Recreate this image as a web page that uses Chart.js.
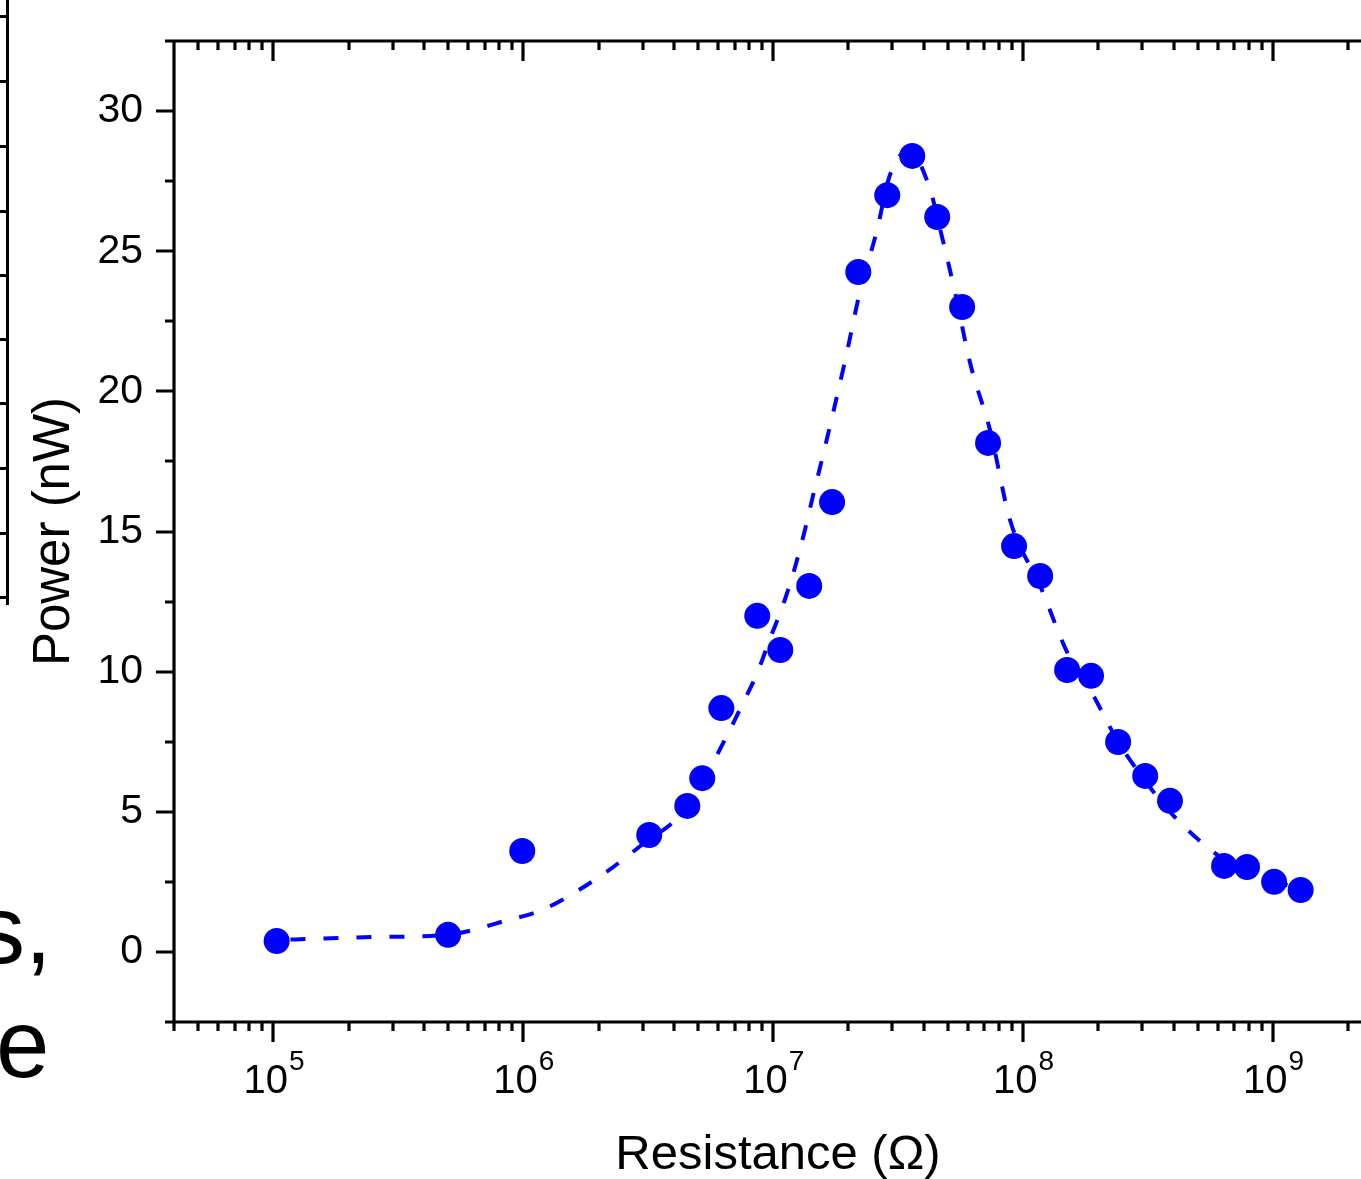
<!DOCTYPE html>
<html>
<head>
<meta charset="utf-8">
<script src="https://cdn.jsdelivr.net/npm/chart.js@4.4.0/dist/chart.umd.min.js"></script>
<style>
  html, body { margin: 0; padding: 0; background: #fff; overflow: hidden; }
  #wrap { position: relative; width: 1361px; height: 1179px; overflow: hidden; }
  #powerChart { position: absolute; left: 0; top: 0; }
  .frag { position: absolute; font-family: "Liberation Sans", Arial, sans-serif; font-size: 96px; line-height: 1; color: #000; white-space: nowrap; }
  #sideAxis { position: absolute; left: 6px; top: 0; width: 3px; height: 605px; background: #000; }
  .sideTick { position: absolute; left: 0; width: 8px; height: 3px; background: #000; }
</style>
</head>
<body>
<div id="wrap">
  <canvas id="powerChart" width="1400" height="1179"></canvas>
  <div id="sideAxis"></div>
  <div class="frag" style="left:-23px; top:882px;">s,</div>
  <div class="frag" style="left:-4px; top:996px;">e</div>
</div>
<script>
// measured points: load resistance (ohm) vs output power (nW)
const resistance = [1.03e5, 5.0e5, 9.9e5, 3.19e6, 4.53e6, 5.2e6, 6.2e6, 8.63e6, 1.067e7, 1.393e7,
  1.72e7, 2.19e7, 2.86e7, 3.6e7, 4.53e7, 5.7e7, 7.24e7, 9.2e7, 1.17e8, 1.5e8,
  1.87e8, 2.4e8, 3.08e8, 3.87e8, 6.37e8, 7.87e8, 1.01e9, 1.29e9];
const power = [0.39, 0.61, 3.6, 4.17, 5.21, 6.2, 8.7, 11.99, 10.77, 13.06,
  16.05, 24.26, 27.0, 28.4, 26.22, 23.01, 18.16, 14.48, 13.41, 10.06,
  9.85, 7.49, 6.28, 5.39, 3.07, 3.03, 2.5, 2.21];

// dashed fit curve
const fitResistance = [1.17e5, 1.34e5, 2.51e5, 5.01e5, 8.71e5, 1.19e6, 2.03e6, 2.94e6, 4.53e6, 6.43e6,
  7.59e6, 8.63e6, 9.73e6, 1.087e7, 1.202e7, 1.343e7, 1.445e7, 1.57e7, 1.94e7, 2.23e7,
  2.61e7, 2.88e7, 3.13e7, 3.47e7, 4.21e7, 4.74e7, 5.35e7, 6.14e7, 7.38e7, 8.87e7,
  1.17e8, 1.5e8, 1.87e8, 2.4e8, 3.08e8, 3.87e8, 5.1e8, 6.37e8, 7.87e8, 1.01e9, 1.28e9];
const fitPower = [0.44, 0.46, 0.53, 0.62, 1.14, 1.5, 2.7, 3.78, 5.17, 7.6,
  8.9, 9.95, 11.2, 12.3, 13.5, 15.1, 16.3, 17.6, 21.1, 23.6,
  25.8, 27.5, 28.26, 28.6, 27.3, 25.5, 23.5, 21.0, 18.6, 15.4,
  13.06, 10.7, 9.3, 7.5, 6.1, 5.0, 3.96, 3.3, 2.9, 2.53, 2.25];

// axes
const xMin = 4e4, xMax = 2.73e9;
const yMin = -2.5, yMax = 32.5;
const yTickVals = [0, 5, 10, 15, 20, 25, 30];
const xDecades = [5, 6, 7, 8, 9];

// fragment of the neighbouring panel's axis on the far left
const sideTicksY = [16, 81, 146, 211, 275, 339, 403, 468, 533, 597];

const FONT = '"Liberation Sans", Arial, sans-serif';
const BLUE = '#0000ff';

sideTicksY.forEach(t => {
  const d = document.createElement('div');
  d.className = 'sideTick';
  d.style.top = (t - 1) + 'px';
  document.getElementById('wrap').appendChild(d);
});

// frame, tick marks and 10^n labels
const framePlugin = {
  id: 'frame',
  afterDraw(chart) {
    const { ctx, chartArea: a } = chart;
    const x = chart.scales.x, y = chart.scales.y;
    ctx.save();
    ctx.strokeStyle = '#000';
    ctx.lineWidth = 3.2;
    ctx.beginPath();
    ctx.rect(a.left, a.top, a.right - a.left, a.bottom - a.top);

    // y ticks, outward
    for (let v = yMin; v <= yMax + 1e-9; v += 2.5) {
      const py = Math.round(y.getPixelForValue(v));
      const len = (Math.abs(v % 5) < 1e-9) ? 18 : 9;
      ctx.moveTo(a.left, py);
      ctx.lineTo(a.left - len, py);
    }

    // x ticks: bottom pointing down, top pointing in
    for (let d = 4; d <= 9; d++) {
      for (let m = 1; m <= 9; m++) {
        const v = m * Math.pow(10, d);
        if (v < xMin * 0.999 || v > xMax) continue;
        const px = Math.round(x.getPixelForValue(v));
        const len = m === 1 ? 20 : 9;
        ctx.moveTo(px, a.bottom);
        ctx.lineTo(px, a.bottom + len);
        ctx.moveTo(px, a.top);
        ctx.lineTo(px, a.top + len);
      }
    }
    ctx.stroke();

    // decade labels with superscript exponent
    ctx.fillStyle = '#000';
    ctx.textBaseline = 'alphabetic';
    ctx.textAlign = 'left';
    xDecades.forEach(d => {
      const px = x.getPixelForValue(Math.pow(10, d));
      ctx.font = '40px ' + FONT;
      const wBase = ctx.measureText('10').width;
      ctx.font = '28px ' + FONT;
      const wExp = ctx.measureText(String(d)).width;
      const start = px - (wBase + wExp) / 2;
      ctx.font = '40px ' + FONT;
      ctx.fillText('10', start, 1093);
      ctx.font = '28px ' + FONT;
      ctx.fillText(String(d), start + wBase + 1, 1070);
    });
    ctx.restore();
  }
};

const points = resistance.map((r, i) => ({ x: r, y: power[i] }));
const fit = fitResistance.map((r, i) => ({ x: r, y: fitPower[i] }));

new Chart(document.getElementById('powerChart'), {
  type: 'scatter',
  data: {
    datasets: [
      {
        label: 'Power',
        data: points,
        backgroundColor: BLUE,
        borderColor: BLUE,
        pointRadius: 13,
        pointHoverRadius: 13,
        borderWidth: 0,
        order: 0
      },
      {
        label: 'Fit',
        data: fit,
        showLine: true,
        borderColor: BLUE,
        borderWidth: 4,
        borderDash: [15, 18],
        pointRadius: 0,
        cubicInterpolationMode: 'monotone',
        fill: false,
        order: 1
      }
    ]
  },
  options: {
    responsive: false,
    animation: false,
    devicePixelRatio: 1,
    layout: { padding: { left: 0, top: 41, right: 18, bottom: 0 } },
    plugins: {
      legend: { display: false },
      tooltip: { enabled: false }
    },
    scales: {
      x: {
        type: 'logarithmic',
        position: 'bottom',
        min: xMin,
        max: xMax,
        grid: { display: false },
        border: { display: false },
        ticks: { display: false },
        title: {
          display: true,
          text: 'Resistance (\u03A9)',
          color: '#000',
          font: { family: FONT, size: 49, lineHeight: 0.98 },
          padding: { top: 0, bottom: 0 }
        },
        afterFit(scale) { scale.height = 157; }
      },
      y: {
        position: 'left',
        min: yMin,
        max: yMax,
        grid: { display: false, drawTicks: false },
        border: { display: false },
        ticks: {
          color: '#000',
          font: { family: FONT, size: 41 },
          padding: 31
        },
        afterBuildTicks(scale) {
          scale.ticks = yTickVals.map(v => ({ value: v }));
        },
        title: {
          display: true,
          text: 'Power (nW)',
          color: '#000',
          font: { family: FONT, size: 51, lineHeight: 1.2 },
          padding: { top: 24, bottom: 0 }
        },
        afterFit(scale) {
          scale.width = 174;
          scale.paddingTop = 0;
          scale.paddingBottom = 0;
        }
      }
    }
  },
  plugins: [framePlugin]
});
</script>
</body>
</html>
